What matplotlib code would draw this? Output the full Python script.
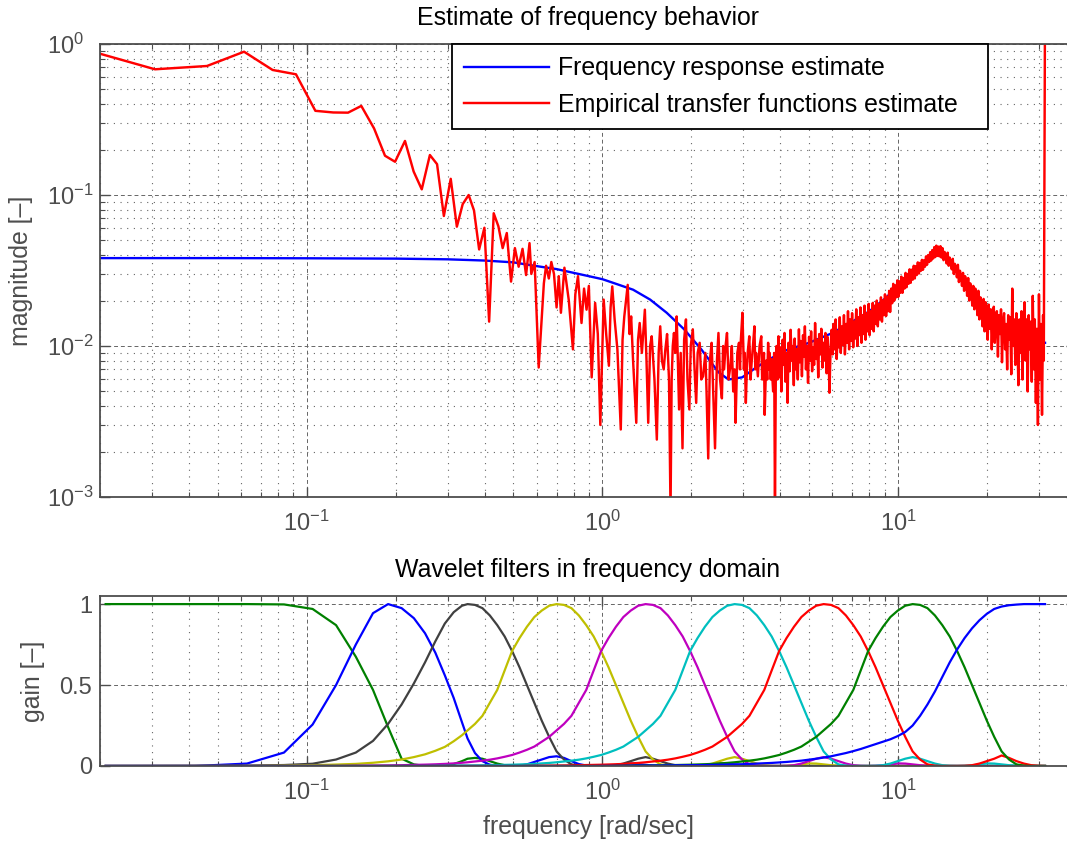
import numpy as np
import matplotlib
matplotlib.use("Agg")
import matplotlib.pyplot as plt

plt.rcParams['font.family'] = ['Liberation Sans', 'DejaVu Sans']
plt.rcParams['mathtext.fontset'] = 'custom'
plt.rcParams['mathtext.rm'] = 'Liberation Sans'
plt.rcParams['mathtext.it'] = 'Liberation Sans:italic'
plt.rcParams['axes.unicode_minus'] = True

# ---------------- data: top panel ----------------
resp_freq = [0.0153, 0.05, 0.1, 0.2, 0.3, 0.4, 0.5, 0.6, 0.7, 0.8, 0.9, 1.0, 1.1, 1.27,
             1.45, 1.65, 1.89, 2.16, 2.47, 2.67, 2.97, 3.31, 3.68, 4.2, 5.0, 6.0, 7.0,
             8.0, 9.0, 10.0, 11.0, 12.0, 13.2, 14.5, 16.0, 18.0, 20.0, 23.0, 26.0, 29.0, 31.4]
resp_mag = [0.0382, 0.0382, 0.0381, 0.0379, 0.0375, 0.0368, 0.0358, 0.0338, 0.0323, 0.0305,
            0.0290, 0.0277, 0.0260, 0.0236, 0.0203, 0.0166, 0.0129, 0.0095, 0.0067, 0.0060,
            0.0062, 0.0072, 0.0082, 0.0094, 0.0105, 0.0122, 0.0145, 0.0170, 0.0205, 0.0248,
            0.0292, 0.0350, 0.0410, 0.0390, 0.0310, 0.0235, 0.0180, 0.0135, 0.0115, 0.0105, 0.0105]

# empirical transfer function estimate, low / mid frequencies
etfe_freq_low = [
    0.0153, 0.0307, 0.046, 0.0614, 0.0767, 0.092, 0.107, 0.123, 0.138, 0.153,
    0.169, 0.184, 0.199, 0.215, 0.230, 0.245, 0.261, 0.276, 0.291, 0.307,
    0.322, 0.337, 0.353, 0.368, 0.383, 0.399, 0.414, 0.429, 0.445, 0.460,
    0.475, 0.491, 0.506, 0.521, 0.537, 0.552, 0.567,
    0.575, 0.59, 0.609, 0.634, 0.645, 0.659, 0.672, 0.686, 0.700, 0.712,
    0.724, 0.744, 0.77, 0.795, 0.81, 0.827, 0.85, 0.867, 0.884, 0.90,
    0.920, 0.945, 0.965, 0.984, 1.010, 1.03, 1.052, 1.066, 1.080, 1.10,
    1.124, 1.154, 1.17, 1.186, 1.218, 1.235, 1.251, 1.27, 1.302, 1.32,
    1.337, 1.36, 1.392, 1.41, 1.429, 1.45, 1.468, 1.50, 1.528, 1.55,
    1.569, 1.59, 1.612, 1.633, 1.655, 1.68, 1.70, 1.715, 1.73, 1.746,
    1.765, 1.783, 1.80, 1.817, 1.84, 1.866, 1.89, 1.917, 1.94, 1.968,
    1.99, 2.022, 2.05, 2.076, 2.10, 2.133, 2.16, 2.19, 2.23, 2.25,
    2.28, 2.31, 2.341, 2.37, 2.404, 2.44, 2.469, 2.50, 2.536, 2.56,
    2.58, 2.61, 2.639, 2.67, 2.711, 2.74, 2.77, 2.80, 2.821, 2.86,
    2.897, 2.92, 2.94, 2.976, 3.01, 3.03, 3.056, 3.08, 3.10, 3.139,
    3.17, 3.20, 3.23, 3.267, 3.29, 3.31, 3.356, 3.38, 3.40, 3.446,
    3.47, 3.49, 3.52, 3.539, 3.58, 3.61, 3.635, 3.66, 3.68, 3.71,
    3.733, 3.76, 3.78, 3.81, 3.834, 3.86, 3.88, 3.91]
etfe_mag_low = [
    1.0, 0.68, 0.715, 0.889, 0.673, 0.63, 0.361, 0.352, 0.351, 0.389,
    0.276, 0.182, 0.166, 0.228, 0.143, 0.109, 0.184, 0.160, 0.0726, 0.128,
    0.0617, 0.087, 0.100, 0.079, 0.0436, 0.0607, 0.0145, 0.0757, 0.062, 0.0445,
    0.056, 0.0267, 0.0445, 0.0335, 0.044, 0.0295, 0.048,
    0.030, 0.036, 0.0072, 0.026, 0.034, 0.028, 0.036, 0.030, 0.018, 0.029,
    0.0166, 0.033, 0.020, 0.0095, 0.022, 0.029, 0.0142, 0.024, 0.0174, 0.025,
    0.0062, 0.0193, 0.012, 0.0030, 0.0203, 0.012, 0.0074, 0.018, 0.0248, 0.015,
    0.0095, 0.0028, 0.011, 0.0157, 0.0254, 0.012, 0.0157, 0.008, 0.0031, 0.011,
    0.0142, 0.009, 0.0174, 0.008, 0.0031, 0.010, 0.0116, 0.006, 0.0024, 0.009,
    0.0135, 0.008, 0.0070, 0.0095, 0.012, 0.006, 0.0008, 0.006, 0.010, 0.0122,
    0.009, 0.0157, 0.008, 0.0038, 0.009, 0.0021, 0.011, 0.015, 0.006, 0.0038,
    0.010, 0.0129, 0.007, 0.0042, 0.009, 0.0105, 0.006, 0.0063, 0.009, 0.005,
    0.0018, 0.008, 0.0105, 0.005, 0.0021, 0.008, 0.0122, 0.006, 0.0045, 0.010,
    0.007, 0.010, 0.0122, 0.006, 0.0074, 0.010, 0.005, 0.007, 0.0031, 0.009,
    0.0105, 0.007, 0.011, 0.0166, 0.007, 0.009, 0.0042, 0.007, 0.009, 0.0116,
    0.006, 0.008, 0.010, 0.0135, 0.007, 0.009, 0.0063, 0.008, 0.010, 0.0116,
    0.006, 0.007, 0.009, 0.0035, 0.008, 0.006, 0.0105, 0.007, 0.009, 0.006,
    0.0082, 0.006, 0.005, 0.009, 0.0008, 0.007, 0.010, 0.006]

# empirical transfer function estimate, dense high-frequency part
etfe_freq_high = [
    3.94, 3.97, 4.00, 4.03, 4.07, 4.10, 4.13, 4.16, 4.20, 4.23,
    4.26, 4.30, 4.33, 4.37, 4.40, 4.44, 4.47, 4.51, 4.54, 4.58,
    4.62, 4.65, 4.69, 4.73, 4.77, 4.80, 4.84, 4.88, 4.92, 4.96,
    5.00, 5.04, 5.08, 5.12, 5.16, 5.20, 5.24, 5.29, 5.33, 5.37,
    5.41, 5.46, 5.50, 5.55, 5.59, 5.64, 5.68, 5.73, 5.77, 5.82,
    5.86, 5.91, 5.96, 6.01, 6.05, 6.10, 6.15, 6.20, 6.25, 6.30,
    6.35, 6.40, 6.46, 6.51, 6.56, 6.61, 6.67, 6.72, 6.77, 6.83,
    6.88, 6.94, 6.99, 7.05, 7.11, 7.16, 7.22, 7.28, 7.34, 7.40,
    7.46, 7.52, 7.58, 7.64, 7.70, 7.76, 7.82, 7.89, 7.95, 8.01,
    8.08, 8.14, 8.21, 8.27, 8.34, 8.41, 8.47, 8.54, 8.61, 8.68,
    8.75, 8.82, 8.89, 8.96, 9.03, 9.11, 9.18, 9.25, 9.33, 9.40,
    9.48, 9.55, 9.63, 9.71, 9.78, 9.86, 9.94, 10.02, 10.10, 10.18,
    10.26, 10.35, 10.43, 10.51, 10.60, 10.68, 10.77, 10.85, 10.94, 11.03,
    11.12, 11.21, 11.30, 11.39, 11.48, 11.57, 11.66, 11.76, 11.85, 11.95,
    12.04, 12.14, 12.24, 12.33, 12.43, 12.53, 12.63, 12.74, 12.84, 12.94,
    13.05, 13.15, 13.26, 13.36, 13.47, 13.58, 13.69, 13.80, 13.91, 14.02,
    14.13, 14.25, 14.36, 14.48, 14.59, 14.71, 14.83, 14.95, 15.07, 15.19,
    15.31, 15.43, 15.56, 15.68, 15.81, 15.93, 16.06, 16.19, 16.32, 16.45,
    16.58, 16.72, 16.85, 16.99, 17.12, 17.26, 17.40, 17.54, 17.68, 17.82,
    17.96, 18.11, 18.25, 18.40, 18.54, 18.69, 18.84, 18.99, 19.15, 19.30,
    19.46, 19.61, 19.77, 19.93, 20.09, 20.25, 20.41, 20.58, 20.74, 20.91,
    21.07, 21.24, 21.41, 21.58, 21.76, 21.93, 22.11, 22.29, 22.46, 22.64,
    22.83, 23.01, 23.19, 23.38, 23.57, 23.76, 23.95, 24.14, 24.33, 24.53,
    24.72, 24.92, 25.12, 25.32, 25.52, 25.73, 25.93, 26.14, 26.35, 26.56,
    26.78, 26.99, 27.21, 27.43, 27.65, 27.87, 28.09, 28.32, 28.54, 28.77,
    29.00, 29.24, 29.47, 29.71, 29.95, 30.19, 30.43, 30.67, 30.92, 31.10,
    31.20, 31.30, 31.40]
etfe_mag_high = [
    0.0116, 0.0062, 0.0098, 0.0050, 0.0110, 0.0075, 0.0122, 0.0058, 0.0090, 0.0042,
    0.0105, 0.0068, 0.0128, 0.0080, 0.0100, 0.0055, 0.0112, 0.0070, 0.0095, 0.0060,
    0.0129, 0.0078, 0.0108, 0.0063, 0.0118, 0.0085, 0.0135, 0.0070, 0.0100, 0.0057,
    0.0115, 0.0080, 0.0125, 0.0068, 0.0098, 0.0075, 0.0142, 0.0082, 0.0110, 0.0062,
    0.0120, 0.0088, 0.0130, 0.0072, 0.0105, 0.0080, 0.0122, 0.0066, 0.0115, 0.0085,
    0.0049, 0.0095, 0.0128, 0.0088, 0.0140, 0.0095, 0.0150, 0.0082, 0.0125, 0.0098,
    0.0155, 0.0090, 0.0135, 0.0102, 0.0160, 0.0088, 0.0140, 0.0105, 0.0170, 0.0095,
    0.0150, 0.0108, 0.0165, 0.0098, 0.0145, 0.0112, 0.0175, 0.0100, 0.0155, 0.0118,
    0.0180, 0.0105, 0.0160, 0.0120, 0.0185, 0.0110, 0.0165, 0.0125, 0.0190, 0.0118,
    0.0170, 0.0130, 0.0193, 0.0125, 0.0185, 0.0140, 0.0200, 0.0135, 0.0190, 0.0150,
    0.0210, 0.0145, 0.0200, 0.0160, 0.0220, 0.0158, 0.0212, 0.0170, 0.0232, 0.0168,
    0.0240, 0.0192, 0.0258, 0.0200, 0.0252, 0.0210, 0.0272, 0.0212, 0.0268, 0.0225,
    0.0288, 0.0225, 0.0282, 0.0240, 0.0305, 0.0245, 0.0300, 0.0258, 0.0322, 0.0262,
    0.0320, 0.0275, 0.0340, 0.0280, 0.0338, 0.0295, 0.0358, 0.0302, 0.0355, 0.0315,
    0.0372, 0.0320, 0.0370, 0.0335, 0.0392, 0.0345, 0.0400, 0.0360, 0.0418, 0.0368,
    0.0432, 0.0380, 0.0452, 0.0388, 0.0462, 0.0395, 0.0455, 0.0392, 0.0458, 0.0385,
    0.0445, 0.0370, 0.0420, 0.0395, 0.0352, 0.0415, 0.0340, 0.0385, 0.0360, 0.0322,
    0.0378, 0.0300, 0.0350, 0.0330, 0.0285, 0.0345, 0.0265, 0.0315, 0.0290, 0.0250,
    0.0305, 0.0232, 0.0290, 0.0270, 0.0215, 0.0282, 0.0200, 0.0260, 0.0235, 0.0185,
    0.0250, 0.0175, 0.0240, 0.0215, 0.0160, 0.0232, 0.0150, 0.0210, 0.0185, 0.0135,
    0.0205, 0.0125, 0.0195, 0.0165, 0.0110, 0.0188, 0.0130, 0.0175, 0.0095, 0.0160,
    0.0182, 0.0105, 0.0150, 0.0170, 0.0085, 0.0160, 0.0120, 0.0175, 0.0078, 0.0145,
    0.0165, 0.0095, 0.0140, 0.0070, 0.0160, 0.0110, 0.0155, 0.0065, 0.0240, 0.0100,
    0.0150, 0.0075, 0.0165, 0.0105, 0.0055, 0.0150, 0.0090, 0.0170, 0.0060, 0.0140,
    0.0195, 0.0080, 0.0150, 0.0050, 0.0160, 0.0095, 0.0145, 0.0058, 0.0215, 0.0070,
    0.0150, 0.0042, 0.0130, 0.0030, 0.0220, 0.0060, 0.0140, 0.0035, 0.0160, 0.0080,
    0.0400, 0.3, 2.0]

# ---------------- data: bottom panel (wavelet filter gains) ----------------
wav_freq = [0.0209, 0.0419, 0.0628, 0.0838, 0.1047, 0.1257, 0.1466, 0.1676, 0.1885, 0.2094,
            0.2304, 0.2513, 0.2723, 0.2932, 0.3142, 0.3351,
            0.350, 0.3708, 0.3929, 0.4162, 0.4410, 0.4672, 0.4950, 0.5244, 0.5556, 0.5886, 0.6236, 0.6607,
            0.700, 0.7416, 0.7858, 0.8324, 0.8819, 0.9344, 0.9899, 1.0488, 1.1112, 1.1773, 1.2473, 1.3214,
            1.400, 1.483, 1.572, 1.665, 1.764, 1.869, 1.980, 2.098, 2.222, 2.355, 2.495, 2.643,
            2.800, 2.967, 3.143, 3.330, 3.528, 3.737, 3.960, 4.195, 4.445, 4.709, 4.989, 5.286,
            5.600, 5.933, 6.286, 6.660, 7.056, 7.475, 7.919, 8.390, 8.889, 9.418, 9.978, 10.571,
            11.20, 11.87, 12.57, 13.32, 14.11, 14.95, 15.84, 16.78, 17.78, 18.84, 19.96, 21.14,
            22.40, 23.73, 25.14, 26.64, 28.22, 29.90, 31.40]

gain_lowpass = [
    1.0, 1.0, 1.0, 0.998, 0.97, 0.87, 0.675, 0.47, 0.24, 0.045, 0.01, 0.0, 0.0, 0.003, 0.012, 0.03,
    0.045, 0.05, 0.045, 0.03, 0.015, 0.005, 0.001, 0, 0, 0, 0, 0,
    0, 0, 0, 0, 0, 0, 0, 0, 0, 0, 0, 0,
    0, 0, 0, 0, 0, 0, 0, 0, 0, 0, 0, 0,
    0, 0, 0, 0, 0, 0, 0, 0, 0, 0, 0, 0,
    0, 0, 0, 0, 0, 0, 0, 0, 0, 0, 0, 0,
    0, 0, 0, 0, 0, 0, 0, 0, 0, 0, 0, 0,
    0, 0, 0, 0, 0, 0, 0]
gain_band1 = [
    0, 0, 0.015, 0.083, 0.256, 0.50, 0.75, 0.944, 1.0, 0.975, 0.913, 0.82, 0.70, 0.56, 0.42, 0.27,
    0.17, 0.08, 0.03, 0.008, 0.001, 0, 0, 0.002, 0.01, 0.025, 0.04, 0.055,
    0.06, 0.05, 0.03, 0.012, 0.003, 0, 0, 0.002, 0.006, 0.012, 0.015, 0.012,
    0.007, 0.003, 0.001, 0, 0, 0, 0, 0, 0, 0, 0, 0,
    0, 0, 0, 0, 0, 0, 0, 0, 0, 0, 0, 0,
    0, 0, 0, 0, 0, 0, 0, 0, 0, 0, 0, 0,
    0, 0, 0, 0, 0, 0, 0, 0, 0, 0, 0, 0,
    0, 0, 0, 0, 0, 0, 0]
gain_band2 = [
    0, 0.001, 0.002, 0.006, 0.014, 0.04, 0.083, 0.155, 0.26, 0.38, 0.51, 0.64, 0.77, 0.88, 0.95, 0.99,
    1.0, 0.995, 0.975, 0.93, 0.87, 0.80, 0.71, 0.61, 0.50, 0.39, 0.28, 0.18,
    0.09, 0.04, 0.01, 0.002, 0, 0, 0, 0.001, 0.005, 0.015, 0.03, 0.045,
    0.055, 0.045, 0.03, 0.015, 0.005, 0.001, 0, 0.001, 0.004, 0.009, 0.016, 0.015,
    0.01, 0.005, 0.002, 0, 0, 0, 0, 0, 0, 0, 0, 0,
    0, 0, 0, 0, 0, 0, 0, 0, 0, 0, 0, 0,
    0, 0, 0, 0, 0, 0, 0, 0, 0, 0, 0, 0,
    0, 0, 0, 0, 0, 0, 0]
gain_band3 = [
    0, 0, 0, 0.003, 0.005, 0.009, 0.013, 0.02, 0.029, 0.04, 0.055, 0.072, 0.094, 0.118, 0.153, 0.19,
    0.22, 0.26, 0.31, 0.39, 0.47, 0.59, 0.71, 0.79, 0.86, 0.92, 0.96, 0.99,
    1.0, 0.995, 0.975, 0.93, 0.87, 0.80, 0.71, 0.61, 0.50, 0.39, 0.28, 0.18,
    0.09, 0.04, 0.01, 0.002, 0, 0, 0, 0.001, 0.005, 0.015, 0.03, 0.045,
    0.055, 0.045, 0.03, 0.015, 0.005, 0.001, 0, 0.001, 0.004, 0.009, 0.016, 0.015,
    0.01, 0.005, 0.002, 0, 0, 0, 0, 0, 0, 0, 0, 0,
    0, 0, 0, 0, 0, 0, 0, 0, 0, 0, 0, 0,
    0, 0, 0, 0, 0, 0, 0]
gain_band4 = [
    0, 0, 0, 0, 0, 0, 0.0015, 0.0027, 0.0037, 0.005, 0.007, 0.0085, 0.0105, 0.013, 0.016, 0.02,
    0.023, 0.028, 0.033, 0.039, 0.047, 0.057, 0.068, 0.083, 0.10, 0.12, 0.15, 0.18,
    0.22, 0.26, 0.31, 0.39, 0.47, 0.59, 0.71, 0.79, 0.86, 0.92, 0.96, 0.99,
    1.0, 0.995, 0.975, 0.93, 0.87, 0.80, 0.71, 0.61, 0.50, 0.39, 0.28, 0.18,
    0.09, 0.04, 0.01, 0.002, 0, 0, 0, 0.001, 0.005, 0.015, 0.03, 0.045,
    0.055, 0.045, 0.03, 0.015, 0.005, 0.001, 0, 0.001, 0.004, 0.009, 0.016, 0.015,
    0.01, 0.005, 0.002, 0, 0, 0, 0, 0, 0, 0, 0, 0,
    0, 0, 0, 0, 0, 0, 0]
gain_band5 = [
    0, 0, 0, 0, 0, 0, 0, 0, 0, 0, 0, 0, 0.001, 0.0015, 0.002, 0.003,
    0.003, 0.0035, 0.004, 0.005, 0.006, 0.007, 0.008, 0.0095, 0.011, 0.013, 0.016, 0.019,
    0.023, 0.028, 0.033, 0.039, 0.047, 0.057, 0.068, 0.083, 0.10, 0.12, 0.15, 0.18,
    0.22, 0.26, 0.31, 0.39, 0.47, 0.59, 0.71, 0.79, 0.86, 0.92, 0.96, 0.99,
    1.0, 0.995, 0.975, 0.93, 0.87, 0.80, 0.71, 0.61, 0.50, 0.39, 0.28, 0.18,
    0.09, 0.04, 0.01, 0.002, 0, 0, 0, 0.001, 0.005, 0.015, 0.03, 0.045,
    0.055, 0.045, 0.03, 0.015, 0.005, 0.001, 0, 0.001, 0.004, 0.009, 0.016, 0.015,
    0.01, 0.005, 0.002, 0, 0, 0, 0]
gain_band6 = [
    0, 0, 0, 0, 0, 0, 0, 0, 0, 0, 0, 0, 0, 0, 0, 0,
    0, 0, 0, 0, 0, 0, 0, 0, 0.001, 0.0015, 0.002, 0.0025,
    0.003, 0.0035, 0.004, 0.005, 0.006, 0.007, 0.008, 0.0095, 0.011, 0.013, 0.016, 0.019,
    0.023, 0.028, 0.033, 0.039, 0.047, 0.057, 0.068, 0.083, 0.10, 0.12, 0.15, 0.18,
    0.22, 0.26, 0.31, 0.39, 0.47, 0.59, 0.71, 0.79, 0.86, 0.92, 0.96, 0.99,
    1.0, 0.995, 0.975, 0.93, 0.87, 0.80, 0.71, 0.61, 0.50, 0.39, 0.28, 0.18,
    0.09, 0.04, 0.01, 0.002, 0, 0, 0, 0.001, 0.005, 0.015, 0.03, 0.045,
    0.065, 0.05, 0.03, 0.015, 0.005, 0.001, 0]
gain_band7 = [
    0, 0, 0, 0, 0, 0, 0, 0, 0, 0, 0, 0, 0, 0, 0, 0,
    0, 0, 0, 0, 0, 0, 0, 0, 0, 0, 0, 0,
    0, 0, 0, 0, 0, 0, 0, 0, 0.001, 0.0015, 0.002, 0.0025,
    0.003, 0.0035, 0.004, 0.005, 0.006, 0.007, 0.008, 0.0095, 0.011, 0.013, 0.016, 0.019,
    0.023, 0.028, 0.033, 0.039, 0.047, 0.057, 0.068, 0.083, 0.10, 0.12, 0.15, 0.18,
    0.22, 0.26, 0.31, 0.39, 0.47, 0.59, 0.71, 0.79, 0.86, 0.92, 0.96, 0.99,
    1.0, 0.995, 0.975, 0.93, 0.87, 0.80, 0.71, 0.61, 0.50, 0.39, 0.28, 0.18,
    0.09, 0.04, 0.01, 0.002, 0, 0, 0]
gain_highpass = [
    0, 0, 0, 0, 0, 0, 0, 0, 0, 0, 0, 0, 0, 0, 0, 0,
    0, 0, 0, 0, 0, 0, 0, 0, 0, 0, 0, 0,
    0, 0, 0, 0, 0, 0, 0.0005, 0.0007, 0.001, 0.0012, 0.0015, 0.0018,
    0.002, 0.0025, 0.003, 0.0035, 0.004, 0.0045, 0.005, 0.0055, 0.006, 0.007, 0.008, 0.009,
    0.01, 0.011, 0.013, 0.015, 0.017, 0.019, 0.022, 0.025, 0.029, 0.033, 0.039, 0.045,
    0.052, 0.06, 0.07, 0.08, 0.092, 0.105, 0.12, 0.135, 0.15, 0.165, 0.185, 0.21,
    0.25, 0.31, 0.38, 0.46, 0.55, 0.64, 0.72, 0.79, 0.85, 0.90, 0.94, 0.97,
    0.985, 0.993, 0.997, 1.0, 1.0, 1.0, 1.0]

filters = [gain_lowpass, gain_band1, gain_band2, gain_band3, gain_band4,
           gain_band5, gain_band6, gain_band7, gain_highpass]
filter_colors = ['#008000', '#0000ff', '#404040', '#bfbf00', '#bf00bf',
                 '#00bfbf', '#ff0000', '#008000', '#0000ff']

# ---------------- figure ----------------
W, H = 1067, 843
fig = plt.figure(figsize=(W / 100, H / 100), dpi=100)
xmin, xmax = 0.02, 40.0
dec_px = 295.7
ax_w = dec_px * (np.log10(xmax) - np.log10(xmin))
left = 100

gray = '#4d4d4d'
fs = 17.9

ax1 = fig.add_axes([left / W, 1 - 497 / H, ax_w / W, 453 / H])
ax2 = fig.add_axes([left / W, 1 - 766 / H, ax_w / W, 170 / H])

etfe_freq = etfe_freq_low + etfe_freq_high
etfe_mag = etfe_mag_low + etfe_mag_high
ax1.loglog(resp_freq, resp_mag, color='#0000ff', lw=1.7, label='Frequency response estimate')
ax1.loglog(etfe_freq, etfe_mag, color='#ff0000', lw=1.75, label='Empirical transfer functions estimate')
ax1.set_xlim(xmin, xmax)
ax1.set_ylim(1e-3, 1.0)
ax1.set_yticks([1e-3, 1e-2, 1e-1, 1.0])
ax1.set_xticks([0.1, 1.0, 10.0])

for g, c in zip(filters, filter_colors):
    ax2.semilogx(wav_freq, g, color=c, lw=1.6)
ax2.set_xlim(xmin, xmax)
ax2.set_ylim(0, 1.05)
ax2.set_yticks([0, 0.5, 1])
ax2.set_yticklabels(['0', '0.5', '1'])
ax2.set_xticks([0.1, 1.0, 10.0])

major_grid = dict(color='#666666', lw=0.7, ls=(0, (4, 3)))
minor_grid = dict(color='#666666', lw=0.8, ls=(0, (1, 5)))
ax1.grid(True, which='major', **major_grid)
ax1.grid(True, which='minor', **minor_grid)
ax2.grid(True, which='major', **major_grid)
ax2.grid(True, which='minor', axis='x', **minor_grid)

for ax in (ax1, ax2):
    for s in ax.spines.values():
        s.set_color(gray)
        s.set_linewidth(1.3)
    ax.tick_params(which='both', direction='in', top=True, right=True,
                   color=gray, labelcolor=gray, labelsize=17)
    ax.tick_params(which='major', length=7, width=1.0)
    ax.tick_params(which='minor', length=3.5, width=0.8)
    ax.tick_params(axis='x', pad=10)
    ax.set_axisbelow(True)

ax1.tick_params(axis='y', pad=38.5)
plt.setp(ax1.get_yticklabels(), ha='left')
ax2.tick_params(axis='y', pad=5.8)

ax1.set_title('Estimate of frequency behavior', fontsize=fs, pad=13.8, color='black')
ax2.set_title('Wavelet filters in frequency domain', fontsize=fs, pad=13.8, color='black')
ax1.set_ylabel('magnitude [–]', fontsize=fs, color=gray)
ax1.yaxis.set_label_coords(-0.0686, 0.5)
ax2.set_ylabel('gain [–]', fontsize=fs, color=gray)
ax2.yaxis.set_label_coords(-0.0561, 0.5)
ax2.set_xlabel('frequency [rad/sec]', fontsize=fs, color=gray)
ax2.xaxis.set_label_coords(0.5, -0.288)

leg = ax1.legend(loc='upper left', bbox_to_anchor=(352 / ax_w, 0.0, 536 / ax_w, 1.0),
                 mode='expand', borderaxespad=0, fontsize=fs, frameon=True,
                 fancybox=False, framealpha=1, edgecolor='black',
                 handlelength=3.4, handletextpad=0.37, labelspacing=0.5, borderpad=0.5)
leg.get_frame().set_linewidth(1.3)

fig.savefig('out.png', dpi=100)
